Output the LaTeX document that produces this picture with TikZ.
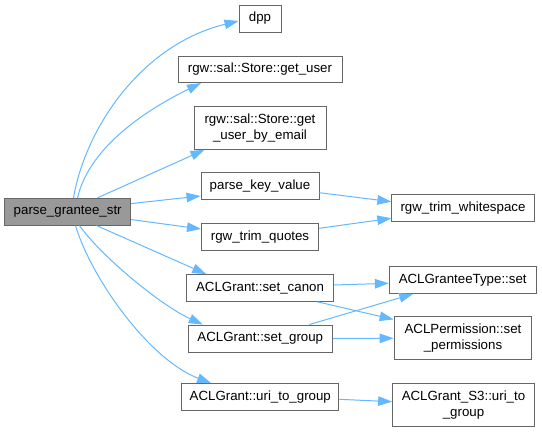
\documentclass[tikz,border=0pt]{standalone}
\usepackage{fontspec}
\setmainfont{Liberation Sans}
\usetikzlibrary{arrows.meta,calc}
\definecolor{edgeblue}{HTML}{63B8FF}
\definecolor{boxline}{HTML}{666666}
\definecolor{rootfill}{HTML}{999999}
\tikzset{
  box/.style={draw=boxline, line width=1pt, fill=white, inner sep=0pt, align=center,
    font=\fontsize{13.3}{16}\selectfont},
  rootbox/.style={box, fill=rootfill},
  edge/.style={draw=edgeblue, line width=1pt, -{Triangle[length=14pt,width=9.5pt]}}
}
\begin{document}
\begin{tikzpicture}[x=1pt,y=-1pt]
\useasboundingbox (0,0) rectangle (542,432);
% nodes
\node[rootbox, minimum width=126pt, minimum height=26.7pt] (pgs) at (67.7,211.7) {parse\_grantee\_str};
\node[box, minimum width=42pt, minimum height=27pt] (dpp) at (260,18.5) {dpp};
\node[box, minimum width=164pt, minimum height=26.5pt] (gu) at (260,69.3) {rgw::sal::Store::get\_user};
\node[box, minimum width=132pt, minimum height=42.5pt] (gube) at (260,128) {rgw::sal::Store::get\\\_user\_by\_email};
\node[box, minimum width=118pt, minimum height=27.3pt] (pkv) at (260,186.3) {parse\_key\_value};
\node[box, minimum width=117pt, minimum height=27pt] (rtq) at (260,236.8) {rgw\_trim\_quotes};
\node[box, minimum width=147pt, minimum height=26.7pt] (canon) at (260,288) {ACLGrant::set\_canon};
\node[box, minimum width=144pt, minimum height=27pt] (sgroup) at (260.3,338.5) {ACLGrant::set\_group};
\node[box, minimum width=157.3pt, minimum height=26.7pt] (uri) at (260.3,397) {ACLGrant::uri\_to\_group};
\node[box, minimum width=142.3pt, minimum height=27.3pt] (rtw) at (463,207.7) {rgw\_trim\_whitespace};
\node[box, minimum width=146.7pt, minimum height=26.7pt] (gts) at (462.7,280) {ACLGranteeType::set};
\node[box, minimum width=137.7pt, minimum height=43.3pt] (perm) at (463,338.3) {ACLPermission::set\\\_permissions};
\node[box, minimum width=141.7pt, minimum height=42.7pt] (s3) at (463.5,405.3) {ACLGrant\_S3::uri\_to\\\_group};
% edges from parse_grantee_str
\draw[edge] ($(pgs.north west)+(69.3,0)$) .. controls (85,130) and (140,45) .. ($(dpp.west)+(0,2.5)$);
\draw[edge] ($(pgs.north west)+(73.3,0)$) .. controls (90,145) and (150,108) .. ($(gu.south west)+(23.5,0)$);
\draw[edge] ($(pgs.north west)+(93.3,0)$) -- ($(gube.south west)+(11,0)$);
\draw[edge] ($(pgs.north east)+(0,5.7)$) -- ($(pkv.west)+(0,9.7)$);
\draw[edge] ($(pgs.north east)+(0,21.7)$) -- ($(rtq.west)+(0,-7.8)$);
\draw[edge] ($(pgs.south west)+(92.3,0)$) -- ($(canon.north west)+(20.3,0)$);
\draw[edge] ($(pgs.south west)+(75.3,0)$) .. controls (100,255) and (160,305) .. ($(sgroup.north west)+(15,0)$);
\draw[edge] ($(pgs.south west)+(71.3,0)$) .. controls (92,280) and (150,360) .. ($(uri.north west)+(30,0)$);
% second level
\draw[edge] ($(pkv.east)+(0,6.4)$) -- ($(rtw.west)+(0,-6)$);
\draw[edge] ($(rtq.east)+(0,-8.5)$) -- ($(rtw.west)+(0,10.6)$);
\draw[edge] ($(canon.east)+(0,-3)$) -- ($(gts.west)+(0,3.3)$);
\draw[edge] ($(canon.south west)+(131.6,0)$) -- ($(perm.north west)+(0,3.3)$);
\draw[edge] ($(sgroup.north west)+(121.7,0)$) -- ($(gts.south west)+(24.4,0)$);
\draw[edge] (sgroup.east) -- (perm.west);
\draw[edge] ($(uri.east)+(0,2.3)$) -- ($(s3.west)+(0,-3.6)$);
\end{tikzpicture}
\end{document}
